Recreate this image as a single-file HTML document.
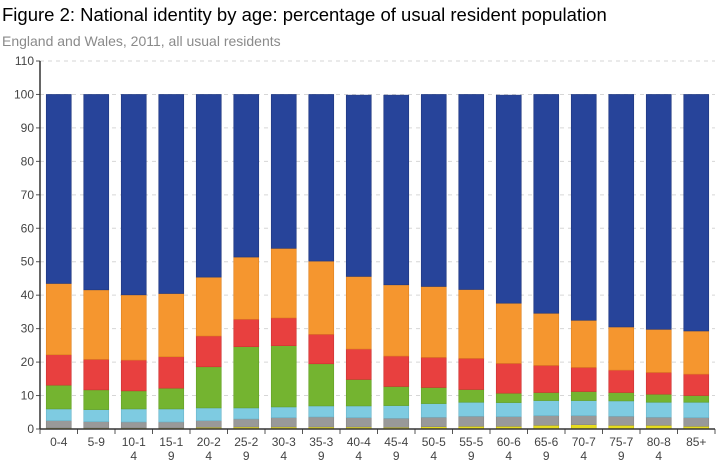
<!DOCTYPE html>
<html><head><meta charset="utf-8"><style>
body{margin:0;background:#fff;width:720px;height:463px;overflow:hidden;font-family:"Liberation Sans",sans-serif}
#t{position:absolute;left:2px;top:4px;font-size:18.5px;color:#000}
#s{position:absolute;left:2px;top:33px;font-size:14px;color:#8a8a8a}
svg{position:absolute;left:0;top:0}
</style></head><body>
<div id="t">Figure 2: National identity by age: percentage of usual resident population</div>
<div id="s">England and Wales, 2011, all usual residents</div>
<svg id="c" width="720" height="463"></svg>
<script>
const categories=["0-4","5-9","10-14","15-19","20-24","25-29","30-34","35-39","40-44","45-49","50-54","55-59","60-64","65-69","70-74","75-79","80-84","85+"];
const labels1=["0-4","5-9","10-1","15-1","20-2","25-2","30-3","35-3","40-4","45-4","50-5","55-5","60-6","65-6","70-7","75-7","80-8","85+"];
const labels2=["","","4","9","4","9","4","9","4","9","4","9","4","9","4","9","4",""];
const yellow=[0.3,0.3,0.3,0.3,0.5,0.6,0.6,0.6,0.6,0.5,0.7,0.8,0.8,1.1,1.3,1.1,1.1,0.8];
const grey=[2.2,1.9,1.8,1.8,2.0,2.4,2.8,3.0,2.8,2.7,2.8,3.0,2.9,2.9,2.7,2.7,2.4,2.6];
const lightblue=[3.5,3.6,3.9,3.9,3.8,3.3,3.2,3.3,3.5,3.8,4.1,4.2,4.2,4.5,4.5,4.6,4.5,4.6];
const green=[7.1,5.9,5.4,6.2,12.3,18.3,18.3,12.6,7.9,5.7,4.8,3.8,2.8,2.4,2.7,2.5,2.4,2.0];
const red=[9.1,9.1,9.2,9.4,9.2,8.2,8.3,8.8,9.1,9.1,9.0,9.3,8.9,8.1,7.2,6.7,6.5,6.4];
const orange=[21.3,20.8,19.5,18.9,17.6,18.6,20.8,21.9,21.7,21.3,21.2,20.6,18.0,15.6,14.1,12.9,12.9,12.9];
const blue=[56.5,58.4,59.9,59.5,54.6,48.6,46.0,49.8,54.2,56.7,57.4,58.3,62.2,65.4,67.5,69.5,70.2,70.7];
const yTicks=[0,10,20,30,40,50,60,70,80,90,100,110];
const series=[yellow,grey,lightblue,green,red,orange,blue];
const names=["yellow","grey","light-blue","green","red","orange","blue"];
const colors=["#e6dc1e","#999999","#7ecbe1","#74b430","#e8403f","#f5962f","#27449a"];
const strokes=["#c9c000","#858585","#6ab3c8","#63a025","#cc3332","#dc8020","#1f377e"];
const svg=document.getElementById('c');const NS="http://www.w3.org/2000/svg";
const x0=40,x1=715,yb=429,yt=61;
const y=v=>yb-(v/110)*(yb-yt);
const step=(x1-x0)/categories.length;
const cx=i=>x0+step*(i+0.5);
function mk(tag,a,p){const e=document.createElementNS(NS,tag);for(const k in a)e.setAttribute(k,a[k]);(p||svg).appendChild(e);return e;}
yTicks.forEach(v=>{
 if(v>0){const g=mk('line',{x1:x0,x2:x1,y1:y(v),y2:y(v),stroke:'#d6d6d6','stroke-dasharray':'4,4'});
 
 }
 const t=mk('text',{x:x0-6,y:y(v)+4,'text-anchor':'end','font-size':12,fill:'#444'});t.textContent=v;
 
 
 mk('line',{x1:x0-4,x2:x0,y1:y(v),y2:y(v),stroke:'#555'});
});
const bw=25;
categories.forEach((c,i)=>{
 let acc=0;
 series.forEach((s,k)=>{
  const r=mk('rect',{x:cx(i)-bw/2,y:y(acc+s[i]),width:bw,height:y(acc)-y(acc+s[i]),fill:colors[k],stroke:strokes[k],'stroke-width':0.6});
  
  
  acc+=s[i];
 });
 const t=mk('text',{x:cx(i),y:yb+17,'text-anchor':'middle','font-size':12,fill:'#444'});t.textContent=labels1[i];
 
 
 if(labels2[i]){const t2=mk('text',{x:cx(i),y:yb+31,'text-anchor':'middle','font-size':12,fill:'#444'});t2.textContent=labels2[i];
 
 }
});
for(let i=0;i<=categories.length;i++)mk('line',{x1:x0+step*i,x2:x0+step*i,y1:yb,y2:yb+5,stroke:'#555'});
const ya=mk('line',{x1:x0,x2:x0,y1:yt,y2:yb,stroke:'#333','stroke-width':1.5});


const xa=mk('line',{x1:x0,x2:x1,y1:yb,y2:yb,stroke:'#333','stroke-width':1.5});


</script>
</body></html>
